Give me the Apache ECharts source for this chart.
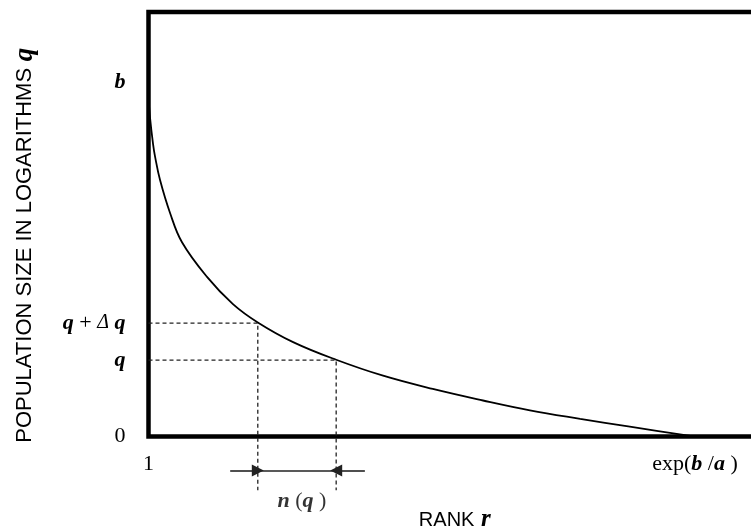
<!DOCTYPE html>
<html>
<head>
<meta charset="utf-8">
<script src="https://cdn.jsdelivr.net/npm/echarts@6/dist/echarts.min.js"></script>
<style>html,body{margin:0;padding:0;background:#fff}#c{width:751px;height:532px}</style>
</head>
<body>
<div id="c"></div>
<script>
// Curve: [rank, log population]
const curveRank = [1, 1.27, 1.82, 2.18, 3.08, 4.89, 7.07, 11.6, 16.3, 20.8, 27.2, 35.0, 43.5, 52.5, 61.6, 70.1, 79.2, 88.2, 98.5, 100];
const curveQ    = [10.0, 9.40, 8.62, 8.25, 7.56, 6.59, 5.72, 4.70, 3.90, 3.36, 2.78, 2.26, 1.79, 1.40, 1.06, 0.77, 0.52, 0.29, 0.03, 0];
// Marked levels
const levelQ = 2.25, levelQdq = 3.34, levelB = 10.44;
const rankQdq = 20.8, rankQ = 35.0;
const rankEnd = 100;
const yTickValues = [0, levelQ, levelQdq, levelB];
const yTickLabels = ['{n|0}', '{q|q}', '{q|q}{n| + }{d|Δ}{n| }{q|q}', '{q|b}'];
const xTickValues = [1, rankEnd];
const xTickLabels = ['{n|1}', '{n|exp(}{q|b}{n| /}{q|a}{n| )}'];
// Annotation positions (in data units, below the axis)
const dashBottom = -1.58;
const arrowLevel = -1.0;
const arrowLeftStart = 15.8, arrowRightStart = 40.2;
const nqPos = [28.8, -1.9];

const serif = '"Liberation Serif", "DejaVu Serif", serif';
const sans = '"Liberation Sans", Arial, sans-serif';
const richLabel = {
  n: {fontFamily: serif, fontSize: 22, color: '#000'},
  q: {fontFamily: serif, fontSize: 22, fontStyle: 'italic', fontWeight: 'bold', color: '#000'},
  d: {fontFamily: serif, fontSize: 20, fontStyle: 'italic', color: '#000'}
};

const chart = echarts.init(document.getElementById('c'), null, {renderer: 'canvas'});
chart.setOption({
  backgroundColor: '#fff',
  animation: false,
  grid: {left: 148.5, top: 12, bottom: 95.5, right: -10.2, containLabel: false, outerBoundsMode: 'none',
         show: true, borderColor: '#000', borderWidth: 4.5, backgroundColor: 'transparent'},
  xAxis: {
    type: 'value', min: 1, max: 112,
    axisLine: {show: false}, axisTick: {show: false}, splitLine: {show: false},
    axisLabel: {
      customValues: xTickValues, margin: 17,
      formatter: function (v) { const i = xTickValues.indexOf(v); return i >= 0 ? xTickLabels[i] : ''; },
      rich: richLabel
    },
    name: '{s|RANK}  {r|r}', nameLocation: 'middle', nameGap: 71,
    nameTextStyle: {rich: {
      s: {fontFamily: sans, fontSize: 20, color: '#000'},
      r: {fontFamily: serif, fontSize: 25, fontStyle: 'italic', fontWeight: 'bold', color: '#000'}
    }}
  },
  yAxis: {
    type: 'value', min: 0, max: 12.5,
    axisLine: {show: false}, axisTick: {show: false}, splitLine: {show: false},
    axisLabel: {
      customValues: yTickValues, margin: 23,
      formatter: function (v) { const i = yTickValues.indexOf(v); return i >= 0 ? yTickLabels[i] : ''; },
      rich: richLabel
    },
    name: '{s|POPULATION SIZE IN LOGARITHMS}  {r|q}', nameLocation: 'middle', nameRotate: 90, nameGap: 110,
    nameTextStyle: {padding: [0, 42, 0, 0], rich: {
      s: {fontFamily: sans, fontSize: 22, color: '#000'},
      r: {fontFamily: serif, fontSize: 27, fontStyle: 'italic', fontWeight: 'bold', color: '#000'}
    }}
  },
  series: [
    {
      type: 'line', data: curveRank.map((r, i) => [r, curveQ[i]]),
      showSymbol: false, smooth: 0.4, lineStyle: {color: '#000', width: 1.8}, z: 5
    },
    {
      type: 'lines', coordinateSystem: 'cartesian2d', polyline: true, clip: false,
      lineStyle: {color: '#222', width: 1.3, type: [4, 3], opacity: 1},
      data: [
        {coords: [[1, levelQdq], [rankQdq, levelQdq], [rankQdq, dashBottom]]},
        {coords: [[1, levelQ], [rankQ, levelQ], [rankQ, dashBottom]]}
      ]
    },
    {
      type: 'lines', coordinateSystem: 'cartesian2d', clip: false,
      symbol: ['none', 'triangle'], symbolSize: 12,
      lineStyle: {color: '#222', width: 1.6, opacity: 1},
      data: [
        {coords: [[arrowLeftStart, arrowLevel], [rankQdq, arrowLevel]]},
        {coords: [[arrowRightStart, arrowLevel], [rankQ, arrowLevel]]}
      ]
    },
    {
      type: 'lines', coordinateSystem: 'cartesian2d', clip: false,
      lineStyle: {color: '#222', width: 1.6, opacity: 1},
      data: [{coords: [[rankQdq, arrowLevel], [rankQ, arrowLevel]]}]
    },
    {
      type: 'scatter', clip: false, symbolSize: 0, data: [nqPos],
      label: {show: true, position: 'inside', formatter: '{q|n}{n| (}{q|q}{n| )}', rich: richLabel}
    }
  ]
});
</script>
</body>
</html>
